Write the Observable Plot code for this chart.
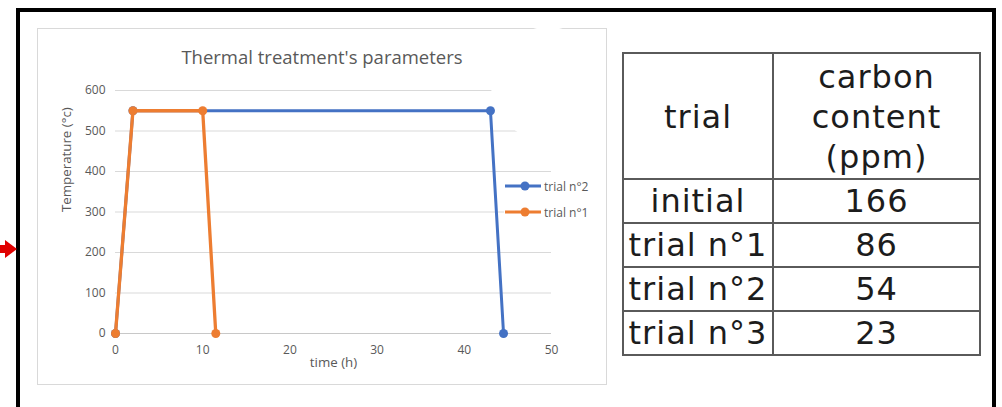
<!DOCTYPE html>
<html><head><meta charset="utf-8">
<script src="https://cdn.jsdelivr.net/npm/d3@7"></script>
<script src="https://cdn.jsdelivr.net/npm/@observablehq/plot@0.6"></script>
<style>
html,body{margin:0;padding:0;background:#fff;}
body{width:1002px;height:407px;overflow:hidden;position:relative;font-family:"Open Sans",sans-serif;}
#box{position:absolute;left:16px;top:8px;width:972px;height:420px;border:4px solid #000;box-sizing:content-box;}
#frame{position:absolute;left:37px;top:28px;width:568px;height:355px;border:1px solid #d9d9d9;background:#fff;}
#plot{position:absolute;left:37px;top:28px;}
#title{position:absolute;left:37px;width:570px;top:44px;text-align:center;font-size:18.5px;color:#595959;line-height:26px;}
#legend{position:absolute;left:504px;top:176px;width:100px;height:50px;background:#fff;font-size:12px;color:#595959;}
#legend .row{position:absolute;left:0;height:16px;display:flex;align-items:center;}
#legend svg{display:block;margin-right:2px;}
#circle{position:absolute;left:491px;top:27px;width:114px;height:114px;border-radius:50%;background:#fff;}
#arrow-stem{position:absolute;left:0;top:245px;width:7px;height:8px;background:#e00000;}
#arrow-head{position:absolute;left:5px;top:240px;width:0;height:0;border-top:9px solid transparent;border-bottom:9px solid transparent;border-left:12px solid #e00000;}
#tbl{position:absolute;left:622px;top:52px;border-collapse:collapse;table-layout:fixed;width:357px;font-family:"DejaVu Sans",Verdana,sans-serif;font-size:32px;letter-spacing:1px;color:#1c1c1c;}
#tbl td{border:2px solid #5a5a5a;padding:0;text-align:center;white-space:nowrap;overflow:visible;vertical-align:middle;}
#tbl tr.h td{height:122px;line-height:40px;padding-top:2px;}
#tbl tr.r td{height:42px;line-height:40px;}
</style>
</head><body>
<div id="box"></div>
<div id="arrow-stem"></div><div id="arrow-head"></div>
<div id="frame"></div>
<div id="title">Thermal treatment's parameters</div>
<div id="plot"></div>
<div id="legend"></div>
<div id="circle"></div>
<table id="tbl"></table>
<script>
// ---- data ----
const trial1Time = [0, 2, 10, 11.5];
const trial1Temp = [0, 550, 550, 0];
const trial2Time = [0, 2, 43, 44.5];
const trial2Temp = [0, 550, 550, 0];
const yTicks = [0, 100, 200, 300, 400, 500, 600];
const xTicks = [0, 10, 20, 30, 40, 50];
const seriesNames = ["trial n°2", "trial n°1"];
const seriesColors = ["#4472c4", "#ed7d31"];
const tableHeader = ["trial", "carbon<br>content<br>(ppm)"];
const tableTrials = ["initial", "trial n°1", "trial n°2", "trial n°3"];
const tableCarbon = [166, 86, 54, 23];

const s1 = trial1Time.map((t, i) => ({t, v: trial1Temp[i]}));
const s2 = trial2Time.map((t, i) => ({t, v: trial2Temp[i]}));

const chart = Plot.plot({
  width: 570, height: 357,
  marginLeft: 78, marginRight: 56, marginTop: 62, marginBottom: 52,
  x: {domain: [0, 50], ticks: xTicks},
  y: {domain: [0, 600], ticks: yTicks},
  style: {fontFamily: "'Open Sans', sans-serif", fontSize: "12px", color: "#595959", background: "transparent", overflow: "visible"},
  marks: [
    Plot.gridY(yTicks, {stroke: "#d9d9d9", strokeOpacity: 1}),
    Plot.ruleY([0], {stroke: "#c8c8c8", strokeWidth: 1}),
    Plot.axisY(yTicks, {tickSize: 0, tickPadding: 10, label: null}),
    Plot.axisX(xTicks, {tickSize: 0, tickPadding: 12, label: null}),
    Plot.text(["Temperature (°c)"], {frameAnchor: "left", rotate: -90, dx: -49, fontSize: 13.3}),
    Plot.text(["time (h)"], {frameAnchor: "bottom", lineAnchor: "middle", dy: 29, fontSize: 13.3}),
    Plot.line(s2, {x: "t", y: "v", stroke: seriesColors[0], strokeWidth: 3}),
    Plot.dot(s2, {x: "t", y: "v", fill: seriesColors[0], r: 4.5}),
    Plot.line(s1, {x: "t", y: "v", stroke: seriesColors[1], strokeWidth: 3.3}),
    Plot.dot(s1, {x: "t", y: "v", fill: seriesColors[1], r: 4.5})
  ]
});
document.getElementById("plot").appendChild(chart);

// legend
const leg = document.getElementById("legend");
seriesNames.forEach((name, i) => {
  const row = document.createElement("div");
  row.className = "row";
  row.style.top = (2 + i * 26) + "px";
  row.innerHTML = `<svg width="38" height="12"><line x1="1" y1="6" x2="37" y2="6" stroke="${seriesColors[i]}" stroke-width="3"/><circle cx="21" cy="6" r="4.5" fill="${seriesColors[i]}"/></svg><span>${name}</span>`;
  leg.appendChild(row);
});

// table
const tbl = document.getElementById("tbl");
tbl.innerHTML = `<colgroup><col style="width:150px"><col style="width:207px"></colgroup>` +
  `<tr class="h"><td>${tableHeader[0]}</td><td>${tableHeader[1]}</td></tr>` +
  tableTrials.map((t, i) => `<tr class="r"><td>${t}</td><td>${tableCarbon[i]}</td></tr>`).join("");
</script>
</body></html>
